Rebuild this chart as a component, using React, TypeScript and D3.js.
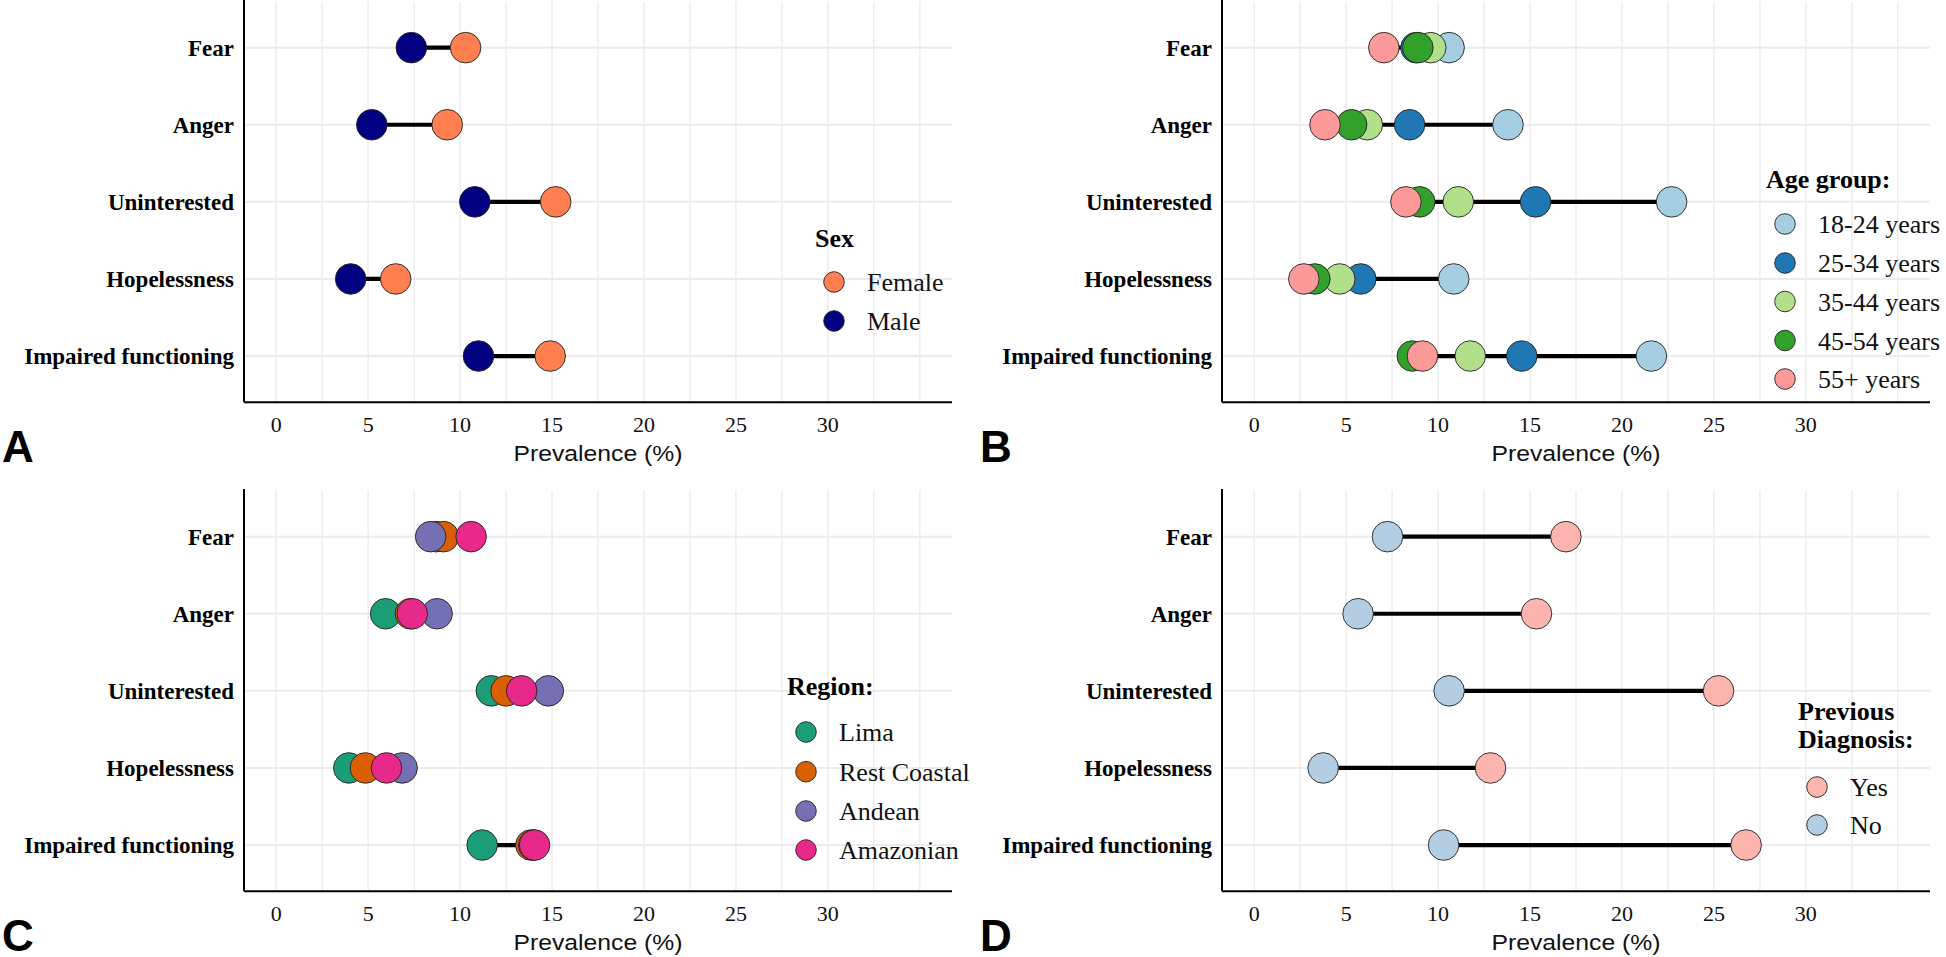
import React from "react";
import * as d3 from "d3";

// ---------- DATA ----------
const categories = ["Fear", "Anger", "Uninterested", "Hopelessness", "Impaired functioning"];
const xTicks = [0, 5, 10, 15, 20, 25, 30];
const gridBreaks = [0, 2.5, 5, 7.5, 10, 12.5, 15, 17.5, 20, 22.5, 25, 27.5, 30, 32.5, 35];
const xAxisTitle = "Prevalence (%)";

// Panel A: Sex
const sexTitle = ["Sex"];
const sexLabels = ["Female", "Male"];
const sexColors = ["#FF7F50", "#000080"];
const femaleValues = [10.3, 9.3, 15.2, 6.5, 14.9];
const maleValues = [7.35, 5.2, 10.8, 4.05, 11.0];

// Panel B: Age group
const ageTitle = ["Age group:"];
const ageLabels = ["18-24 years", "25-34 years", "35-44 years", "45-54 years", "55+ years"];
const ageColors = ["#A6CEE3", "#1F78B4", "#B2DF8A", "#33A02C", "#FB9A99"];
const age18to24 = [10.6, 13.8, 22.7, 10.85, 21.6];
const age25to34 = [8.8, 8.45, 15.3, 5.8, 14.55];
const age35to44 = [9.6, 6.15, 11.1, 4.65, 11.75];
const age45to54 = [8.9, 5.3, 9.0, 3.3, 8.6];
const age55plus = [7.05, 3.85, 8.25, 2.7, 9.15];

// Panel C: Region
const regionTitle = ["Region:"];
const regionLabels = ["Lima", "Rest Coastal", "Andean", "Amazonian"];
const regionColors = ["#1B9E77", "#D95F02", "#7570B3", "#E7298A"];
const limaValues = [8.7, 5.95, 11.7, 3.95, 11.2];
const restCoastalValues = [9.1, 7.3, 12.5, 4.85, 13.85];
const andeanValues = [8.4, 8.75, 14.8, 6.85, 14.0];
const amazonianValues = [10.6, 7.4, 13.35, 6.0, 14.05];

// Panel D: Previous diagnosis
const diagTitle = ["Previous", "Diagnosis:"];
const diagLabels = ["Yes", "No"];
const diagColors = ["#FBB4AE", "#B3CDE3"];
const diagYesValues = [16.95, 15.35, 25.25, 12.85, 26.75];
const diagNoValues = [7.25, 5.65, 10.6, 3.75, 10.3];

// ---------- LAYOUT ----------
const W = 1946;
const H = 957;
const PLOT_L = 244;
const PLOT_R = 952;
const PLOT_T = 1.4;
const PLOT_B = 402.3;
const SERIF = "'Liberation Serif', 'Times New Roman', serif";
const SANS = "'Liberation Sans', Arial, sans-serif";

type Series = { label: string; color: string; values: number[] };
type LegendCfg = { left: number; titleBaselines: number[]; keyYs: number[] };

const xScale = d3.scaleLinear().domain([-1.75, 36.75]).range([PLOT_L, PLOT_R]);
const yScale = d3.scalePoint<string>().domain(categories).range([PLOT_T, PLOT_B]).padding(0.6);

function Panel({ ox, oy, series, title, legend, letter }: {
  ox: number; oy: number; series: Series[]; title: string[]; legend: LegendCfg; letter: string;
}) {
  const ranges = categories.map((c, i) => {
    const vals = series.map((s) => s.values[i]);
    return { c, min: d3.min(vals) as number, max: d3.max(vals) as number };
  });
  return (
    <g transform={`translate(${ox},${oy})`}>
      {/* grid */}
      {gridBreaks.map((b) => (
        <line key={"gx" + b} x1={xScale(b)} x2={xScale(b)} y1={PLOT_T} y2={PLOT_B} stroke="#ebebeb" strokeWidth={1.4} />
      ))}
      {categories.map((c) => (
        <line key={"gy" + c} x1={PLOT_L} x2={PLOT_R} y1={yScale(c)} y2={yScale(c)} stroke="#ebebeb" strokeWidth={2} />
      ))}
      {/* axes */}
      <line x1={PLOT_L} x2={PLOT_L} y1={0} y2={PLOT_B} stroke="#000" strokeWidth={2} />
      <line x1={PLOT_L} x2={PLOT_R} y1={PLOT_B} y2={PLOT_B} stroke="#000" strokeWidth={2} />
      {/* y labels */}
      {categories.map((c) => (
        <text key={"yl" + c} x={234} y={(yScale(c) as number) + 8} textAnchor="end" fontFamily={SERIF} fontWeight="bold" fontSize={23} fill="#000">
          {c}
        </text>
      ))}
      {/* x tick labels */}
      {xTicks.map((t) => (
        <text key={"xt" + t} x={xScale(t)} y={431.7} textAnchor="middle" fontFamily={SERIF} fontSize={22} fill="#111">
          {t}
        </text>
      ))}
      <text x={(PLOT_L + PLOT_R) / 2} y={460.7} textAnchor="middle" fontFamily={SANS} fontSize={22} textLength={169} lengthAdjust="spacingAndGlyphs" fill="#111">
        {xAxisTitle}
      </text>
      {/* dumbbell segments */}
      {ranges.map((r) => (
        <line key={"seg" + r.c} x1={xScale(r.min)} x2={xScale(r.max)} y1={yScale(r.c)} y2={yScale(r.c)} stroke="#000" strokeWidth={4.2} />
      ))}
      {/* points */}
      {series.map((s) =>
        s.values.map((v, i) => (
          <circle key={s.label + i} cx={xScale(v)} cy={yScale(categories[i])} r={15.3} fill={s.color} stroke="#222" strokeWidth={0.9} />
        ))
      )}
      {/* legend */}
      {title.map((t, i) => (
        <text key={"lt" + i} x={legend.left} y={legend.titleBaselines[i]} fontFamily={SERIF} fontWeight="bold" fontSize={26} fill="#000">
          {t}
        </text>
      ))}
      {series.map((s, i) => (
        <g key={"lg" + s.label}>
          <circle cx={legend.left + 19} cy={legend.keyYs[i]} r={10.3} fill={s.color} stroke="#222" strokeWidth={0.9} />
          <text x={legend.left + 52} y={legend.keyYs[i] + 9} fontFamily={SERIF} fontSize={26} fill="#111">
            {s.label}
          </text>
        </g>
      ))}
      {/* panel letter */}
      <text x={2} y={461.7} fontFamily={SANS} fontWeight="bold" fontSize={44} fill="#000">
        {letter}
      </text>
    </g>
  );
}

export default function App() {
  const sexSeries: Series[] = [
    { label: sexLabels[0], color: sexColors[0], values: femaleValues },
    { label: sexLabels[1], color: sexColors[1], values: maleValues },
  ];
  const ageValues = [age18to24, age25to34, age35to44, age45to54, age55plus];
  const ageSeries: Series[] = ageLabels.map((l, i) => ({ label: l, color: ageColors[i], values: ageValues[i] }));
  const regionValues = [limaValues, restCoastalValues, andeanValues, amazonianValues];
  const regionSeries: Series[] = regionLabels.map((l, i) => ({ label: l, color: regionColors[i], values: regionValues[i] }));
  const diagSeries: Series[] = [
    { label: diagLabels[0], color: diagColors[0], values: diagYesValues },
    { label: diagLabels[1], color: diagColors[1], values: diagNoValues },
  ];
  return (
    <svg width={W} height={H} style={{ position: "absolute", left: 0, top: 0, background: "#fff", display: "block" }}>
      <rect x={0} y={0} width={W} height={H} fill="#fff" />
      <Panel ox={0} oy={0} series={sexSeries} title={sexTitle} letter="A"
        legend={{ left: 815, titleBaselines: [246.7], keyYs: [282, 321] }} />
      <Panel ox={978} oy={0} series={ageSeries} title={ageTitle} letter="B"
        legend={{ left: 788, titleBaselines: [188], keyYs: [224, 263, 301.5, 340.5, 379] }} />
      <Panel ox={0} oy={489} series={regionSeries} title={regionTitle} letter="C"
        legend={{ left: 787, titleBaselines: [206], keyYs: [243, 282.7, 322, 361] }} />
      <Panel ox={978} oy={489} series={diagSeries} title={diagTitle} letter="D"
        legend={{ left: 820, titleBaselines: [231, 259], keyYs: [298, 336] }} />
    </svg>
  );
}
